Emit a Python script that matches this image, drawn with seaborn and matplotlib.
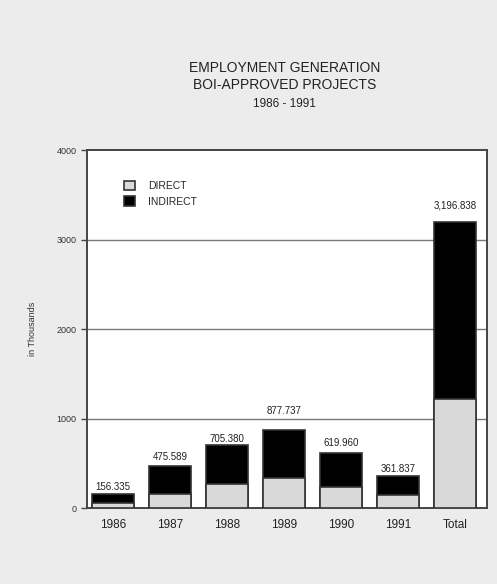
import numpy as np
import pandas as pd
import matplotlib
matplotlib.use("Agg")
import matplotlib.pyplot as plt
import seaborn as sns
from matplotlib.patches import Patch

sns.set_theme(style="white")
plt.rcParams['font.family'] = ['Liberation Sans Narrow', 'Liberation Sans', 'DejaVu Sans']

# data (thousands)
years = ["1986", "1987", "1988", "1989", "1990", "1991", "Total"]
total = [156.335, 475.589, 705.380, 877.737, 619.960, 361.837, 3196.838]
direct = [60, 160, 270, 340, 240, 150, 1220]
labels = ["156.335", "475.589", "705.380", "877.737", "619.960", "361.837", "3,196.838"]
label_y = [175, 510, 715, 1030, 670, 380, 3330]

df = pd.DataFrame({"year": years, "total": total, "direct": direct})

fig = plt.figure(figsize=(4.97, 5.84), dpi=100, facecolor="#ececec")
ax = fig.add_axes([0.175, 0.130, 0.805, 0.613])
ax.set_facecolor("white")

for y in [1000, 2000, 3000]:
    ax.axhline(y, color="#777777", lw=1.0, zorder=0)

sns.barplot(data=df, x="year", y="total", color="black", width=0.74,
            edgecolor="#333333", linewidth=1.2, saturation=1, ax=ax, zorder=2)
sns.barplot(data=df, x="year", y="direct", color="#d9d9d9", width=0.74,
            edgecolor="#333333", linewidth=1.2, saturation=1, ax=ax, zorder=3)

for i, (lab, ly) in enumerate(zip(labels, label_y)):
    ax.text(i, ly, lab, ha="center", va="bottom", fontsize=7, color="#222222")

ax.set_xlim(-0.46, 6.56)
ax.set_ylim(0, 4000)
ax.set_yticks([0, 1000, 2000, 3000, 4000])
ax.set_yticklabels(["0", "1000", "2000", "3000", "4000"], fontsize=6.5, color="#333333")
ax.set_xticks(range(len(years)))
ax.set_xticklabels(years, fontsize=8.5, color="#222222")
ax.set_xticks(np.arange(0.5, 6, 1), minor=True)
ax.tick_params(axis="x", which="major", length=0, pad=8)
ax.tick_params(axis="x", which="minor", length=3, width=1.2, color="#444444", direction="out")
ax.tick_params(axis="y", length=4, width=1, color="#444444", direction="out", left=True)
ax.set_xlabel("")
ax.set_ylabel("in Thousands", fontsize=6.5, color="#333333", labelpad=14)

for s in ax.spines.values():
    s.set_color("#444444")
    s.set_linewidth(1.4)

handles = [Patch(facecolor="#d9d9d9", edgecolor="#333333", linewidth=1.2, label="DIRECT"),
           Patch(facecolor="black", edgecolor="#333333", linewidth=1.2, label="INDIRECT")]
ax.legend(handles=handles, loc="upper left", bbox_to_anchor=(0.07, 0.94), frameon=False,
          fontsize=7.5, handlelength=1.0, handleheight=1.0, handletextpad=1.3, labelspacing=0.5)

fig.text(0.573, 0.876, "EMPLOYMENT GENERATION", ha="center", fontsize=10, color="#222222")
fig.text(0.573, 0.847, "BOI-APPROVED PROJECTS", ha="center", fontsize=10, color="#222222")
fig.text(0.573, 0.817, "1986 - 1991", ha="center", fontsize=8.5, color="#222222")

fig.savefig("out.png", dpi=100, facecolor=fig.get_facecolor())
